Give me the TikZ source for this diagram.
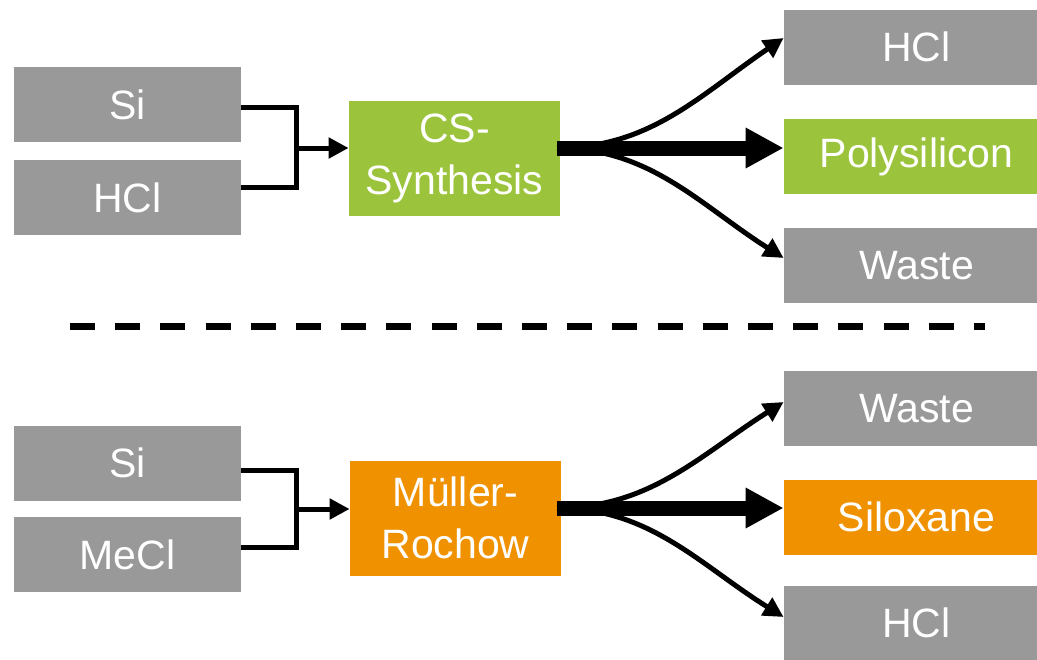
\documentclass[tikz,border=0pt]{standalone}
\usepackage{fontspec}
\setmainfont{Liberation Sans}
\usepackage{tikz}
\usetikzlibrary{arrows.meta}

\definecolor{boxgray}{RGB}{153,153,153}
\definecolor{csgreen}{RGB}{155,196,60}
\definecolor{mrorange}{RGB}{240,146,0}

\begin{document}
\begin{tikzpicture}[x=0.5pt, y=-0.5pt,
		box/.style={fill=boxgray, text=white, inner sep=0pt, font=\fontsize{20.5}{26}\selectfont, align=center},
		inbox/.style={box, minimum width=113.5pt, minimum height=37.5pt},
		outbox/.style={box, minimum width=132.5pt, minimum height=37.5pt},
		procbox/.style={box, minimum width=105.5pt, minimum height=57.5pt},
		feed/.style={line width=2.5pt},
		thin arrow/.style={line width=2.5pt, -{Triangle[length=10pt, width=10pt]}},
		main arrow/.style={line width=7.5pt, -{Triangle[length=19pt, width=19pt]}}]

	\useasboundingbox (0,0) rectangle (1037,659);

	% upper route
	\node[inbox] (si1) at (127.5,104.5) {Si};
	\node[inbox] (hcl1) at (127.5,197.5) {HCl};
	\node[procbox, fill=csgreen] (cs) at (454.5,158.5) {CS-\\Synthesis};
	\node[outbox] (hcl2) at (916.5,47) {HCl};
	\node[outbox, fill=csgreen] (poly) at (916.5,156.5) {Polysilicon};
	\node[outbox] (waste1) at (916.5,265.5) {Waste};
	\coordinate (j1) at (296,148);
	\coordinate (o1) at (557,148);

	\draw[feed] ([yshift=-1.5pt]si1.east) -| (j1) |- ([yshift=5pt]hcl1.east);
	\draw[thin arrow] (j1) -- (cs.west |- j1);
	\draw[thin arrow] (o1) .. controls (650,148) and (700,95) .. ([yshift=4.5pt]hcl2.west);
	\draw[thin arrow] (o1) .. controls (650,148) and (700,205) .. ([yshift=3.75pt]waste1.west);
	\draw[main arrow] (o1) -- (poly.west |- o1);

	% separator
	\draw[line width=3.5pt, dash pattern=on 12.5pt off 10.1pt] (70,326) -- (985,326);

	% lower route
	\node[inbox] (si2) at (127.5,463) {Si};
	\node[inbox] (mecl) at (127.5,554.5) {MeCl};
	\node[procbox, fill=mrorange] (mr) at (455.5,518) {Müller-\\Rochow};
	\node[outbox] (waste2) at (916.5,408.5) {Waste};
	\node[outbox, fill=mrorange] (silox) at (916.5,517) {Siloxane};
	\node[outbox] (hcl3) at (916.5,623) {HCl};
	\coordinate (j2) at (296,509);
	\coordinate (o2) at (557,508);

	\draw[feed] ([yshift=-3.5pt]si2.east) -| (j2) |- ([yshift=3.75pt]mecl.east);
	\draw[thin arrow] (j2) -- (mr.west |- j2);
	\draw[thin arrow] (o2) .. controls (650,508) and (700,455) .. ([yshift=3.25pt]waste2.west);
	\draw[thin arrow] (o2) .. controls (650,508) and (700,565) .. ([yshift=3pt]hcl3.west);
	\draw[main arrow] (o2) -- (silox.west |- o2);

\end{tikzpicture}
\end{document}
